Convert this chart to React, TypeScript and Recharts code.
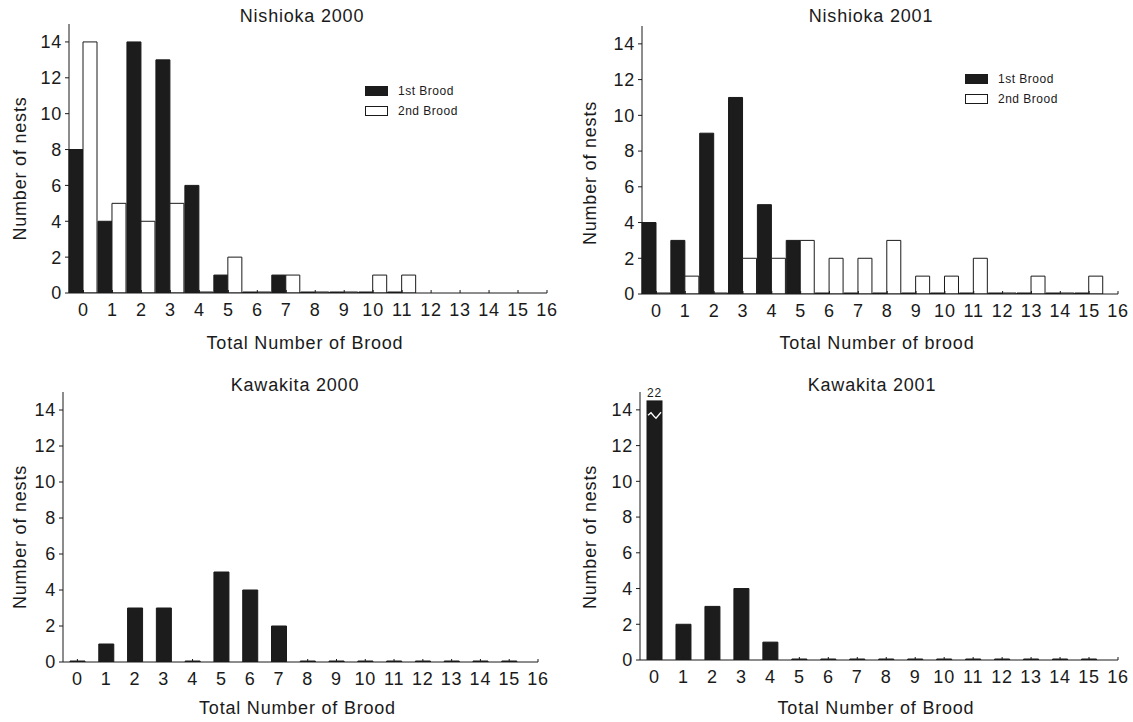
import React from "react";
import { BarChart, Bar, XAxis, YAxis, Legend, ReferenceDot, Rectangle } from "recharts";

// Total number of brood (x categories) and axis ticks
const broodCounts = [0, 1, 2, 3, 4, 5, 6, 7, 8, 9, 10, 11, 12, 13, 14, 15];
const xTicks = [0, 1, 2, 3, 4, 5, 6, 7, 8, 9, 10, 11, 12, 13, 14, 15, 16];
const yTicks = [0, 2, 4, 6, 8, 10, 12, 14];

// Number of nests
const nishioka2000First = [8, 4, 14, 13, 6, 1, 0, 1, 0, 0, 0, 0];
const nishioka2000Second = [14, 5, 4, 5, 0, 2, 0, 1, 0, 0, 1, 1];
const nishioka2001First = [4, 3, 9, 11, 5, 3, 0, 0, 0, 0, 0, 0, 0, 0, 0, 0];
const nishioka2001Second = [0, 1, 0, 2, 2, 3, 2, 2, 3, 1, 1, 2, 0, 1, 0, 1];
const kawakita2000 = [0, 1, 3, 3, 0, 5, 4, 2, 0, 0, 0, 0, 0, 0, 0, 0];
const kawakita2001 = [22, 2, 3, 4, 1, 0, 0, 0, 0, 0, 0, 0, 0, 0, 0, 0];

const Y_MAX = 15;
const BREAK_AT = 14.5; // broken bar is cut here
const ZIGZAG_AT = 13.7;

const INK = "#1a1a1a";
const BLACK = "#1c1c1c";
const FONT = '"Liberation Sans", Arial, Helvetica, sans-serif';

const twoSeries = (a: number[], b: number[]) =>
  a.map((v, i) => ({ n: broodCounts[i], first: v, second: b[i] }));
const oneSeries = (a: number[]) => a.map((v, i) => ({ n: broodCounts[i], count: v }));

const xTitle = (text: string, dy: number) => (props: any) => {
  const vb = props.viewBox;
  const cx = vb.x + vb.width / 2 - 3;
  const cy = vb.y + dy;
  return (
    <text x={cx} y={cy} textAnchor="middle" dominantBaseline="central" fontSize={18} fill={INK}>
      {text}
    </text>
  );
};

const yTitle = (dx: number, dy: number) => (props: any) => {
  const vb = props.viewBox;
  const cx = vb.x + dx;
  const cy = vb.y + vb.height / 2 + dy;
  return (
    <text
      x={cx}
      y={cy}
      transform={`rotate(-90, ${cx}, ${cy})`}
      textAnchor="middle"
      dominantBaseline="central"
      fontSize={18}
      fill={INK}
    >
      Number of nests
    </text>
  );
};

const LegendRows = (props: any) => (
  <div>
    {props.payload.map((e: any) => (
      <div key={e.value} style={{ display: "flex", alignItems: "center", height: 20 }}>
        <span
          style={{
            flexShrink: 0,
            width: 21,
            height: 8,
            border: `1px solid ${INK}`,
            background: e.color,
            marginRight: 10,
          }}
        />
        <span style={{ whiteSpace: "nowrap", fontSize: 12, letterSpacing: "0.5px", color: INK }}>
          {e.value}
        </span>
      </div>
    ))}
  </div>
);

// bar that is cut off above the axis with a white break mark
function BrokenBar(props: any) {
  const { x, y, width, height, fill, stroke, payload } = props;
  const v = payload.count;
  if (v <= Y_MAX) {
    return <Rectangle x={x} y={y} width={width} height={height} fill={fill} stroke={stroke} />;
  }
  const base = y + height;
  const unit = height / v;
  const top = base - BREAK_AT * unit;
  const zy = base - ZIGZAG_AT * unit;
  const pts = [
    [x + 1, zy],
    [x + 4, zy - 2.5],
    [x + 7, zy + 1],
    [x + 9, zy + 3],
    [x + 14, zy - 3],
  ]
    .map((p) => p.join(","))
    .join(" ");
  return (
    <g>
      <rect x={x} y={top} width={width} height={base - top} fill={fill} stroke={stroke} />
      <polyline points={pts} fill="none" stroke="#ffffff" strokeWidth={1.3} />
    </g>
  );
}

type PanelProps = {
  left: number;
  top: number;
  width: number;
  height: number;
  marginTop: number;
  marginRight: number;
  yAxisWidth: number;
  xAxisHeight: number;
  title: string;
  titleX: number;
  titleY: number;
  xLabel: string;
  xLabelDy: number;
  yLabelDx: number;
  yLabelDy: number;
  data: any[];
  children: React.ReactNode;
};

function Panel(p: PanelProps) {
  return (
    <div style={{ position: "absolute", left: p.left, top: p.top, width: p.width, height: p.height }}>
      <div
        style={{
          position: "absolute",
          left: p.titleX - 150,
          top: p.titleY - 11,
          width: 300,
          lineHeight: "22px",
          fontSize: 18,
          textAlign: "center",
          color: INK,
        }}
      >
        {p.title}
      </div>
      <BarChart
        width={p.width}
        height={p.height}
        data={p.data}
        barGap={0}
        margin={{ top: p.marginTop, right: p.marginRight, left: 0, bottom: 0 }}
      >
        <XAxis
          dataKey="n"
          type="number"
          domain={[-0.5, 16]}
          ticks={xTicks}
          interval={0}
          height={p.xAxisHeight}
          tickSize={-3}
          tickMargin={13}
          stroke={INK}
          tick={{ fill: INK, fontSize: 18 }}
          label={xTitle(p.xLabel, p.xLabelDy)}
        />
        <YAxis
          type="number"
          domain={[0, Y_MAX]}
          ticks={yTicks}
          allowDataOverflow
          width={p.yAxisWidth}
          tickSize={4}
          tickMargin={3}
          stroke={INK}
          tick={{ fill: INK, fontSize: 18 }}
          label={yTitle(p.yLabelDx, p.yLabelDy)}
        />
        {p.children}
      </BarChart>
    </div>
  );
}

export default function App() {
  return (
    <div
      style={{
        position: "absolute",
        left: 0,
        top: 0,
        width: 1133,
        height: 722,
        background: "#ffffff",
        fontFamily: FONT,
        letterSpacing: "0.8px",
      }}
    >
      <Panel
        left={0}
        top={0}
        width={566}
        height={360}
        marginTop={24}
        marginRight={19}
        yAxisWidth={69}
        xAxisHeight={67}
        title="Nishioka 2000"
        titleX={302}
        titleY={16}
        xLabel="Total Number of Brood"
        xLabelDy={50}
        yLabelDx={20}
        yLabelDy={10}
        data={twoSeries(nishioka2000First, nishioka2000Second)}
      >
        <Legend
          layout="vertical"
          align="center"
          verticalAlign="middle"
          wrapperStyle={{ left: 365, top: 81, width: 120 }}
          content={LegendRows}
        />
        <Bar dataKey="first" name="1st Brood" fill={BLACK} stroke={INK} barSize={14} minPointSize={1} isAnimationActive={false} />
        <Bar dataKey="second" name="2nd Brood" fill="#ffffff" stroke={INK} barSize={14} minPointSize={1} isAnimationActive={false} />
      </Panel>

      <Panel
        left={566}
        top={0}
        width={567}
        height={360}
        marginTop={26}
        marginRight={15}
        yAxisWidth={76}
        xAxisHeight={66}
        title="Nishioka 2001"
        titleX={305}
        titleY={16}
        xLabel="Total Number of brood"
        xLabelDy={49}
        yLabelDx={24}
        yLabelDy={13}
        data={twoSeries(nishioka2001First, nishioka2001Second)}
      >
        <Legend
          layout="vertical"
          align="center"
          verticalAlign="middle"
          wrapperStyle={{ left: 399, top: 69, width: 120 }}
          content={LegendRows}
        />
        <Bar dataKey="first" name="1st Brood" fill={BLACK} stroke={INK} barSize={14} minPointSize={1} isAnimationActive={false} />
        <Bar dataKey="second" name="2nd Brood" fill="#ffffff" stroke={INK} barSize={14} minPointSize={1} isAnimationActive={false} />
      </Panel>

      <Panel
        left={0}
        top={360}
        width={566}
        height={362}
        marginTop={32}
        marginRight={28}
        yAxisWidth={63}
        xAxisHeight={60}
        title="Kawakita 2000"
        titleX={295}
        titleY={25}
        xLabel="Total Number of Brood"
        xLabelDy={46}
        yLabelDx={20}
        yLabelDy={10}
        data={oneSeries(kawakita2000)}
      >
        <Bar dataKey="count" fill={BLACK} stroke={INK} barSize={15} minPointSize={1} isAnimationActive={false} />
      </Panel>

      <Panel
        left={566}
        top={360}
        width={567}
        height={362}
        marginTop={32}
        marginRight={15}
        yAxisWidth={74}
        xAxisHeight={62}
        title="Kawakita 2001"
        titleX={306}
        titleY={25}
        xLabel="Total Number of Brood"
        xLabelDy={48}
        yLabelDx={24}
        yLabelDy={11}
        data={oneSeries(kawakita2001)}
      >
        <Bar
          dataKey="count"
          fill={BLACK}
          stroke={INK}
          barSize={15}
          minPointSize={1}
          isAnimationActive={false}
          shape={(props: any) => <BrokenBar {...props} />}
        />
        <ReferenceDot
          x={broodCounts[0]}
          y={BREAK_AT}
          r={0}
          fill="none"
          stroke="none"
          label={{ value: String(kawakita2001[0]), position: "top", offset: 4, fontSize: 12, fill: INK }}
        />
      </Panel>
    </div>
  );
}
